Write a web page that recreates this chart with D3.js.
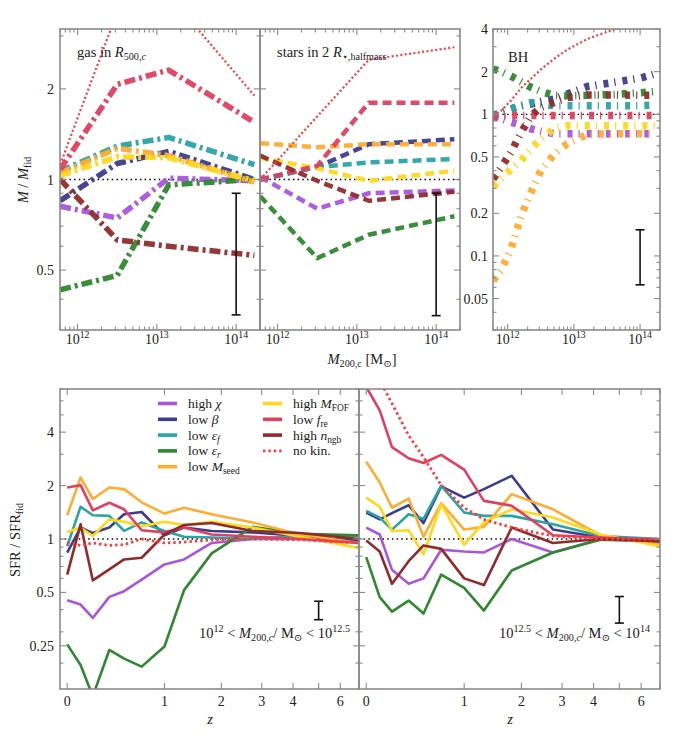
<!DOCTYPE html>
<html>
<head>
<meta charset="utf-8">
<script src="https://cdn.jsdelivr.net/npm/d3@7"></script>
<style>
  body { margin: 0; background: #fff; }
</style>
</head>
<body>
<svg id="fig" width="690" height="750" font-family="'Liberation Serif', 'Times New Roman', 'DejaVu Serif', serif"></svg>
<script>
// series order: high chi, low beta, low eps_f, low eps_r, low M_seed, high M_FOF, low f_re, high n_ngb, no kin.
const colors = ["#a955dc", "#3c3c8e", "#2aa4a4", "#2e882e", "#ffac30", "#ffd81c", "#e23e5f", "#902b2b", "#ff3a3a"];
const legendLabels = [
  [["high ", ""], ["χ", "i"]],
  [["low ", ""], ["β", "i"]],
  [["low ", ""], ["ε", "i"], ["f", "subi"]],
  [["low ", ""], ["ε", "i"], ["r", "subi"]],
  [["low ", ""], ["M", "i"], ["seed", "sub"]],
  [["high ", ""], ["M", "i"], ["FOF", "sub"]],
  [["low ", ""], ["f", "i"], ["re", "sub"]],
  [["high ", ""], ["n", "i"], ["ngb", "sub"]],
  [["no kin.", ""]]
];

// log10 M200c of the mass bins
const massGrid = [11.78, 12.5, 13.15, 14.23];
const bhGrid = [11.78, 11.9, 12.05, 12.2, 12.35, 12.5, 12.7, 12.9, 13.2, 13.6, 14.0, 14.23];
const zGrid = [0, 0.1, 0.2, 0.35, 0.5, 0.7, 1.0, 1.3, 1.8, 2.75, 4.25, 7];

// M / M_fid, gas in R500c
const gasRatio = [
  [0.815, 0.745, 1.01, 0.99],
  [0.85, 1.13, 1.24, 1.0],
  [1.066, 1.29, 1.38, 1.12],
  [0.43, 0.48, 0.96, 1.0],
  [1.05, 1.27, 1.2, 0.98],
  [1.03, 1.19, 1.18, 0.99],
  [1.08, 2.07, 2.31, 1.55],
  [1.0, 0.63, 0.6, 0.56],
  [1.12, 3.6, 4.1, 1.9]
];
// M / M_fid, stars in 2 R_half
const starRatio = [
  [1.02, 0.80, 0.90, 0.92],
  [1.0, 1.1, 1.31, 1.36],
  [1.0, 1.1, 1.14, 1.17],
  [0.88, 0.548, 0.655, 0.755],
  [1.32, 1.28, 1.31, 1.31],
  [1.18, 1.09, 0.99, 1.07],
  [1.0, 1.11, 1.8, 1.8],
  [1.2, 0.99, 0.85, 0.91],
  [1.0, 1.62, 2.5, 2.75]
];
// M / M_fid, black holes
const bhRatio = [
  [0.96, 0.93, 0.88, 0.84, 0.79, 0.76, 0.73, 0.73, 0.73, 0.73, 0.73, 0.73],
  [0.98, 1.03, 1.09, 1.15, 1.18, 1.23, 1.28, 1.39, 1.57, 1.68, 1.8, 1.93],
  [0.98, 1.02, 1.09, 1.15, 1.21, 1.18, 1.15, 1.15, 1.15, 1.15, 1.15, 1.16],
  [2.09, 2.0, 1.86, 1.7, 1.55, 1.45, 1.36, 1.35, 1.36, 1.38, 1.42, 1.45],
  [0.067, 0.079, 0.112, 0.19, 0.28, 0.40, 0.52, 0.62, 0.72, 0.73, 0.73, 0.73],
  [0.31, 0.35, 0.41, 0.47, 0.57, 0.67, 0.79, 0.83, 0.83, 0.83, 0.83, 0.83],
  [0.95, 0.97, 0.98, 0.98, 0.98, 0.98, 0.98, 0.98, 0.98, 0.98, 0.98, 0.98],
  [0.35, 0.42, 0.54, 0.74, 0.97, 1.12, 1.21, 1.31, 1.37, 1.37, 1.36, 1.36],
  [0.98, 1.06, 1.25, 1.53, 1.78, 2.07, 2.46, 2.86, 3.4, 3.96, 4.3, 4.5]
];
// SFR / SFR_fid, 10^12 < M < 10^12.5
const sfrLow = [
  [0.452, 0.427, 0.359, 0.472, 0.508, 0.59, 0.719, 0.767, 0.95, 1.0, 1.0, 0.99],
  [0.837, 1.16, 1.08, 1.16, 1.38, 1.42, 1.05, 1.16, 1.11, 1.09, 1.04, 0.97],
  [0.91, 1.52, 1.36, 1.35, 1.11, 1.24, 1.11, 1.03, 1.02, 1.0, 1.04, 1.04],
  [0.255, 0.195, 0.13, 0.237, 0.212, 0.191, 0.248, 0.515, 0.83, 1.17, 1.07, 1.05],
  [1.36, 2.22, 1.68, 1.95, 1.91, 1.61, 1.39, 1.5, 1.38, 1.24, 1.06, 0.95],
  [1.095, 1.16, 1.04, 1.29, 1.25, 1.18, 1.25, 1.2, 1.25, 1.16, 1.03, 0.89],
  [1.95, 2.01, 1.45, 1.6, 1.47, 1.12, 1.09, 1.16, 1.06, 1.03, 1.0, 0.95],
  [0.63, 1.21, 0.585, 0.675, 0.767, 0.784, 1.06, 1.2, 1.23, 1.11, 1.08, 1.0],
  [0.95, 0.92, 0.95, 0.92, 0.93, 1.0, 0.95, 0.96, 0.99, 1.0, 0.99, 0.95]
];
// SFR / SFR_fid, 10^12.5 < M < 10^14
const sfrHigh = [
  [1.16, 1.06, 0.67, 0.56, 0.6, 0.87, 0.85, 0.84, 1.0, 0.84, 1.0, 0.98],
  [1.41, 1.29, 1.40, 1.55, 1.23, 1.98, 1.71, 1.91, 2.27, 1.13, 1.02, 0.97],
  [1.44, 1.32, 1.13, 1.38, 1.3, 2.0, 1.41, 1.35, 1.35, 1.21, 1.04, 1.0],
  [0.79, 0.47, 0.39, 0.45, 0.38, 0.63, 0.53, 0.395, 0.665, 0.84, 0.99, 0.97],
  [2.73, 2.08, 1.5, 1.69, 1.03, 1.59, 1.13, 1.17, 1.79, 1.47, 1.05, 0.93],
  [1.71, 1.52, 1.11, 1.12, 0.82, 1.57, 0.93, 1.24, 1.47, 1.32, 1.06, 0.91],
  [7.2, 5.3, 3.29, 2.85, 2.68, 2.98, 2.46, 1.64, 1.54, 1.05, 1.02, 0.99],
  [0.98, 0.85, 0.56, 0.75, 0.92, 0.88, 0.6, 0.55, 1.16, 0.95, 1.0, 0.97],
  [10, 7.8, 5.8, 3.83, 2.89, 2.01, 1.5, 1.29, 1.16, 1.04, 1.0, 1.0]
];

// error bars [low, high]
const errGas = [0.355, 0.9];
const errStars = [0.353, 0.9];
const errBH = [0.0625, 0.153];
const errSfrLow = [0.351, 0.446];
const errSfrHigh = [0.336, 0.474];
const errMass = 1e14;
const errZ = 5;

const massLabels = [1e12, 1e13, 1e14];
const ratioLabels = [0.5, 1, 2];
const bhLabels = [0.05, 0.1, 0.2, 0.5, 1, 2, 4];
const sfrLabels = [0.25, 0.5, 1, 2, 4];
const zTicks = [0, 1, 2, 3, 4, 5, 6, 7];
const zLabels = [0, 1, 2, 3, 4, 6];

const svg = d3.select("#fig");
const defs = svg.append("defs");

const xGas = d3.scaleLog().domain([6e11, 2e14]).range([60, 260]);
const xStars = xGas.copy().range([260, 460]);
const xBH = xGas.copy().range([493, 660]);
const yRatio = d3.scaleLog().domain([Math.pow(10, -0.5), Math.pow(10, 0.5)]).range([330, 29]);
const yBH = d3.scaleLog().domain([0.03, 4]).range([330, 29]);
// bottom x: log(1+z)
const xLo = d3.scaleLog().domain([0.95, 8]).range([60, 359]);
const xHi = xLo.copy().range([359, 660]);
const ySFR = d3.scaleLog().domain([1 / 7, 7]).range([689, 389]);

function rich(g, x, y, parts, fs, anchor) {
  const t = g.append("text").attr("x", x).attr("y", y).attr("fill", "#222")
    .attr("font-size", fs).attr("text-anchor", anchor || "start");
  let cur = 0;
  parts.forEach(([s, k]) => {
    const off = k.includes("sub") ? fs * 0.22 : k.includes("sup") ? -fs * 0.4 : 0;
    const ts = t.append("tspan").attr("dy", off - cur).text(s);
    cur = off;
    if (k.includes("i")) ts.attr("font-style", "italic");
    if (k.includes("sub") || k.includes("sup")) ts.attr("font-size", fs * 0.7);
  });
  return t;
}

let clipN = 0;
function panel(x, y, xMaj, xAll, yMaj, yAll) {
  const [x0, x1] = x.range(), [y1, y0] = y.range();
  const id = "clip" + (clipN++);
  defs.append("clipPath").attr("id", id).append("rect")
    .attr("x", x0).attr("y", y0).attr("width", x1 - x0).attr("height", y1 - y0);
  const lines = svg.append("g").attr("clip-path", `url(#${id})`);
  const fr = svg.append("g").attr("stroke", "#8a8a8a").attr("stroke-width", 1.1);
  xAll.forEach(v => {
    const L = xMaj.includes(v) ? 6 : 3.5, px = x(v);
    fr.append("line").attr("x1", px).attr("x2", px).attr("y1", y1).attr("y2", y1 - L);
    fr.append("line").attr("x1", px).attr("x2", px).attr("y1", y0).attr("y2", y0 + L);
  });
  yAll.forEach(v => {
    const L = yMaj.includes(v) ? 6 : 3.5, py = y(v);
    fr.append("line").attr("x1", x0).attr("x2", x0 + L).attr("y1", py).attr("y2", py);
    fr.append("line").attr("x1", x1).attr("x2", x1 - L).attr("y1", py).attr("y2", py);
  });
  fr.append("rect").attr("x", x0).attr("y", y0).attr("width", x1 - x0).attr("height", y1 - y0)
    .attr("fill", "none").attr("stroke-width", 1.6);
  // reference line at ratio 1
  lines.append("line").attr("x1", x0).attr("x2", x1).attr("y1", y(1)).attr("y2", y(1))
    .attr("stroke", "#000").attr("stroke-width", 1.3).attr("stroke-dasharray", "1.5,3.2");
  return lines;
}

const isPow10 = v => Math.abs(Math.log10(v) - Math.round(Math.log10(v))) < 1e-9;
const massTicks = xGas.ticks();
const massMajor = massTicks.filter(isPow10);
const ratioTicks = yRatio.ticks();
const bhTicks = Array.from(new Set(yBH.ticks().concat(bhLabels)));
const sfrTicks = ySFR.ticks().concat([0.25]);
const zOne = zTicks.map(z => 1 + z);

function drawSet(g, x, y, xs, rows, style) {
  rows.forEach((row, i) => {
    const pts = xs.map((xv, j) => [xv, row[j]]);
    const st = style(i);
    g.append("path").datum(pts)
      .attr("d", d3.line().x(d => x(d[0])).y(d => y(d[1])))
      .attr("fill", "none").attr("stroke", colors[i])
      .attr("stroke-width", st.w).attr("stroke-dasharray", st.dash)
      .attr("stroke-linejoin", "round").attr("opacity", st.op || 1);
  });
}
function errbar(g, x, y, xv, lohi) {
  const px = x(xv);
  const e = g.append("g").attr("stroke", "#111").attr("stroke-width", 1.6);
  e.append("line").attr("x1", px).attr("x2", px).attr("y1", y(lohi[0])).attr("y2", y(lohi[1]));
  lohi.forEach(v => e.append("line").attr("x1", px - 4.5).attr("x2", px + 4.5).attr("y1", y(v)).attr("y2", y(v)));
}

const massX = massGrid.map(m => Math.pow(10, m));
const bhX = bhGrid.map(m => Math.pow(10, m));
const zX = zGrid.map(z => 1 + z);
const dotTop = { w: 2.2, dash: "2,2.4" };

// gas panel
const gGas = panel(xGas, yRatio, massMajor, massTicks, ratioLabels, ratioTicks);
drawSet(gGas, xGas, yRatio, massX, gasRatio, i => i === 8 ? dotTop : { w: 5.5, dash: "11,4,3,4", op: 0.95 });
errbar(gGas, xGas, yRatio, errMass, errGas);

// stars panel
const gStars = panel(xStars, yRatio, massMajor, massTicks, ratioLabels, ratioTicks);
drawSet(gStars, xStars, yRatio, massX, starRatio, i => i === 8 ? dotTop : { w: 4.5, dash: "9,5", op: 0.95 });
errbar(gStars, xStars, yRatio, errMass, errStars);

// BH panel
const gBH = panel(xBH, yBH, massMajor, massTicks, bhLabels, bhTicks);
drawSet(gBH, xBH, yBH, bhX, bhRatio, i => i === 8 ? dotTop : { w: 7.5, dash: "5,6,1.2,7", op: 0.95 });
errbar(gBH, xBH, yBH, errMass, errBH);

// SFR panels
const solid = i => i === 8 ? { w: 2.8, dash: "2.4,3" } : { w: 2.6, dash: null };
const gLo = panel(xLo, ySFR, zOne, zOne, sfrLabels, sfrTicks);
drawSet(gLo, xLo, ySFR, zX, sfrLow, solid);
errbar(gLo, xLo, ySFR, 1 + errZ, errSfrLow);
const gHi = panel(xHi, ySFR, zOne, zOne, sfrLabels, sfrTicks);
drawSet(gHi, xHi, ySFR, zX, sfrHigh, solid);
errbar(gHi, xHi, ySFR, 1 + errZ, errSfrHigh);

// tick labels
const lab = svg.append("g").attr("fill", "#222");
[xGas, xStars, xBH].forEach(x => massLabels.forEach(v =>
  rich(lab, x(v), 344, [["10", ""], [String(Math.round(Math.log10(v))), "sup"]], 14, "middle")));
ratioLabels.forEach(v => lab.append("text").attr("x", 54).attr("y", yRatio(v) + 5)
  .attr("text-anchor", "end").attr("font-size", 14).text(v));
bhLabels.forEach(v => lab.append("text").attr("x", 488).attr("y", yBH(v) + 5)
  .attr("text-anchor", "end").attr("font-size", 14).text(v));
sfrLabels.forEach(v => lab.append("text").attr("x", 54).attr("y", ySFR(v) + 5)
  .attr("text-anchor", "end").attr("font-size", 14).text(v));
[xLo, xHi].forEach(x => zLabels.forEach(z => lab.append("text").attr("x", x(1 + z)).attr("y", 706)
  .attr("text-anchor", "middle").attr("font-size", 14).text(z)));

// axis titles
rich(lab, 362, 364, [["M", "i"], ["200,c", "sub"], [" [M", ""], ["⊙", "sub"], ["]", ""]], 14.5, "middle");
rich(lab.append("g").attr("transform", "translate(28,180) rotate(-90)"), 0, 0,
  [["M", "i"], [" / ", ""], ["M", "i"], ["fid", "sub"]], 14.5, "middle");
rich(lab.append("g").attr("transform", "translate(20,540) rotate(-90)"), 0, 0,
  [["SFR / SFR", ""], ["fid", "sub"]], 14.5, "middle");
lab.append("text").attr("x", 210).attr("y", 724).attr("font-size", 14.5).attr("font-style", "italic")
  .attr("text-anchor", "middle").text("z");
lab.append("text").attr("x", 510).attr("y", 724).attr("font-size", 14.5).attr("font-style", "italic")
  .attr("text-anchor", "middle").text("z");

// panel annotations
rich(lab, 77, 57, [["gas in ", ""], ["R", "i"], ["500,", "sub"], ["c", "subi"]], 14.5);
rich(lab, 277, 57, [["stars in 2 ", ""], ["R", "i"], ["⋆,halfmass", "sub"]], 14.5);
lab.append("text").attr("x", 508).attr("y", 62).attr("font-size", 14.5).text("BH");
rich(lab, 350, 638, [["10", ""], ["12", "sup"], [" < ", ""], ["M", "i"], ["200,", "sub"], ["c", "subi"],
  ["/ M", ""], ["⊙", "sub"], [" < 10", ""], ["12.5", "sup"]], 14.5, "end");
rich(lab, 650, 638, [["10", ""], ["12.5", "sup"], [" < ", ""], ["M", "i"], ["200,", "sub"], ["c", "subi"],
  ["/ M", ""], ["⊙", "sub"], [" < 10", ""], ["14", "sup"]], 14.5, "end");

// legend
const leg = svg.append("g");
legendLabels.forEach((parts, i) => {
  const col = i < 5 ? 0 : 1, row = i < 5 ? i : i - 5;
  const lx = col === 0 ? 158 : 263, ly = 403.5 + row * 15.8;
  leg.append("line").attr("x1", lx).attr("x2", lx + 19).attr("y1", ly).attr("y2", ly)
    .attr("stroke", colors[i]).attr("stroke-width", i === 8 ? 2.8 : 3.6)
    .attr("stroke-dasharray", i === 8 ? "2.4,3" : null);
  rich(leg, lx + 30, ly + 4.5, parts, 13.5);
});
</script>
</body>
</html>
